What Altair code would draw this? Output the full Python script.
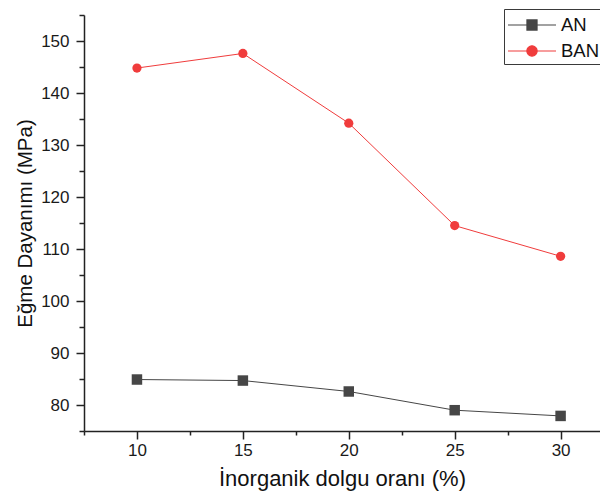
import altair as alt
import pandas as pd

# ---- data ----
x_vals = [10, 15, 20, 25, 30]
an_vals = [84.9, 84.7, 82.6, 79.0, 77.9]
ban_vals = [144.8, 147.6, 134.2, 114.5, 108.6]
series_names = ["AN", "BAN"]
series_colors = ["#464646", "#f03c3c"]

x_major = [10, 15, 20, 25, 30]
x_minor = [7.5, 12.5, 17.5, 22.5, 27.5]
y_major = [80, 90, 100, 110, 120, 130, 140, 150]
y_minor = [75, 85, 95, 105, 115, 125, 135, 145, 155]

df = pd.DataFrame({
    "x": x_vals + x_vals,
    "y": an_vals + ban_vals,
    "series": ["AN"] * len(x_vals) + ["BAN"] * len(x_vals),
})

FONT = "Liberation Sans"
AXC = "#222222"

xscale = alt.Scale(domain=[7.5, 31.86], nice=False, zero=False)
yscale = alt.Scale(domain=[75, 155], nice=False, zero=False)
cscale = alt.Scale(domain=series_names, range=series_colors)

# legend symbols: a line with the marker in its middle (path units scaled by 12px)
sq = "M-1,0H3M0.58,-0.42H1.42V0.42H0.58Z"
ci = "M0.57,0A0.43,0.43,0,1,1,1.43,0A0.43,0.43,0,1,1,0.57,0Z M-1,0H3"
sscale = alt.Scale(domain=series_names, range=[sq, ci])

leg = alt.Legend(
    title=None, orient="none", legendX=420, legendY=-6,
    strokeColor="#3a3a3a", padding=3,
    symbolSize=576, symbolStrokeWidth=1.2, symbolOpacity=1,
    labelFontSize=18.5, labelFont=FONT, labelColor="#111111",
    labelOffset=28, rowPadding=3,
)

x_min_axis = alt.Axis(values=x_minor, tickSize=4, labels=False, domain=False,
                      title=None, orient="bottom", grid=False, ticks=True)
y_min_axis = alt.Axis(values=y_minor, tickSize=5, labels=False, domain=False,
                      title=None, orient="left", grid=False, ticks=True)
x_maj_axis = alt.Axis(values=x_major, tickSize=8, format="d",
                      title="İnorganik dolgu oranı (%)", orient="bottom",
                      grid=False, labelPadding=3, titlePadding=10,
                      titleFontSize=22)
y_maj_axis = alt.Axis(values=y_major, tickSize=8, format="d",
                      title="Eğme Dayanımı (MPa)", orient="left",
                      grid=False, labelPadding=7, titlePadding=5,
                      titleFontSize=20.5)

base = alt.Chart(df)

def series_layers(name, color, shape, size, xa, ya):
    sub = base.transform_filter(alt.datum.series == name)
    ln = sub.mark_line(strokeWidth=1, color=color).encode(
        x=alt.X("x:Q", scale=xscale, axis=xa),
        y=alt.Y("y:Q", scale=yscale, axis=ya),
    )
    pt = sub.mark_point(shape=shape, filled=True, size=size, opacity=1,
                        color=color).encode(
        x=alt.X("x:Q", scale=xscale, axis=None),
        y=alt.Y("y:Q", scale=yscale, axis=None),
    )
    return ln, pt

an_line, an_pts = series_layers("AN", series_colors[0], "square", 110,
                                x_maj_axis, y_maj_axis)
ban_line, ban_pts = series_layers("BAN", series_colors[1], "circle", 85,
                                  x_min_axis, y_min_axis)

# empty layer whose only job is the legend (line + marker symbols)
legend_layer = base.transform_filter("false").mark_point(filled=True).encode(
    x=alt.X("x:Q", scale=xscale, axis=None),
    y=alt.Y("y:Q", scale=yscale, axis=None),
    fill=alt.Fill("series:N", scale=cscale, legend=leg),
    stroke=alt.Stroke("series:N", scale=cscale, legend=leg),
    shape=alt.Shape("series:N", scale=sscale, legend=leg),
)

chart = alt.layer(ban_line, an_line, an_pts, ban_pts, legend_layer).resolve_axis(
    x="independent", y="independent"
).properties(
    width=516, height=416,
    autosize=alt.AutoSizeParams(type="none"),
    padding={"left": 76, "top": 7, "right": 0, "bottom": 70},
).configure_view(stroke=None).configure_axis(
    domainColor=AXC, domainWidth=1.5, tickColor=AXC, tickWidth=1.5,
    labelFont=FONT, labelFontSize=17, labelColor="#1a1a1a",
    titleFont=FONT, titleFontWeight="normal", titleColor="#111111",
)

chart.save("out.html", embed_options={"renderer": "svg", "actions": False})
